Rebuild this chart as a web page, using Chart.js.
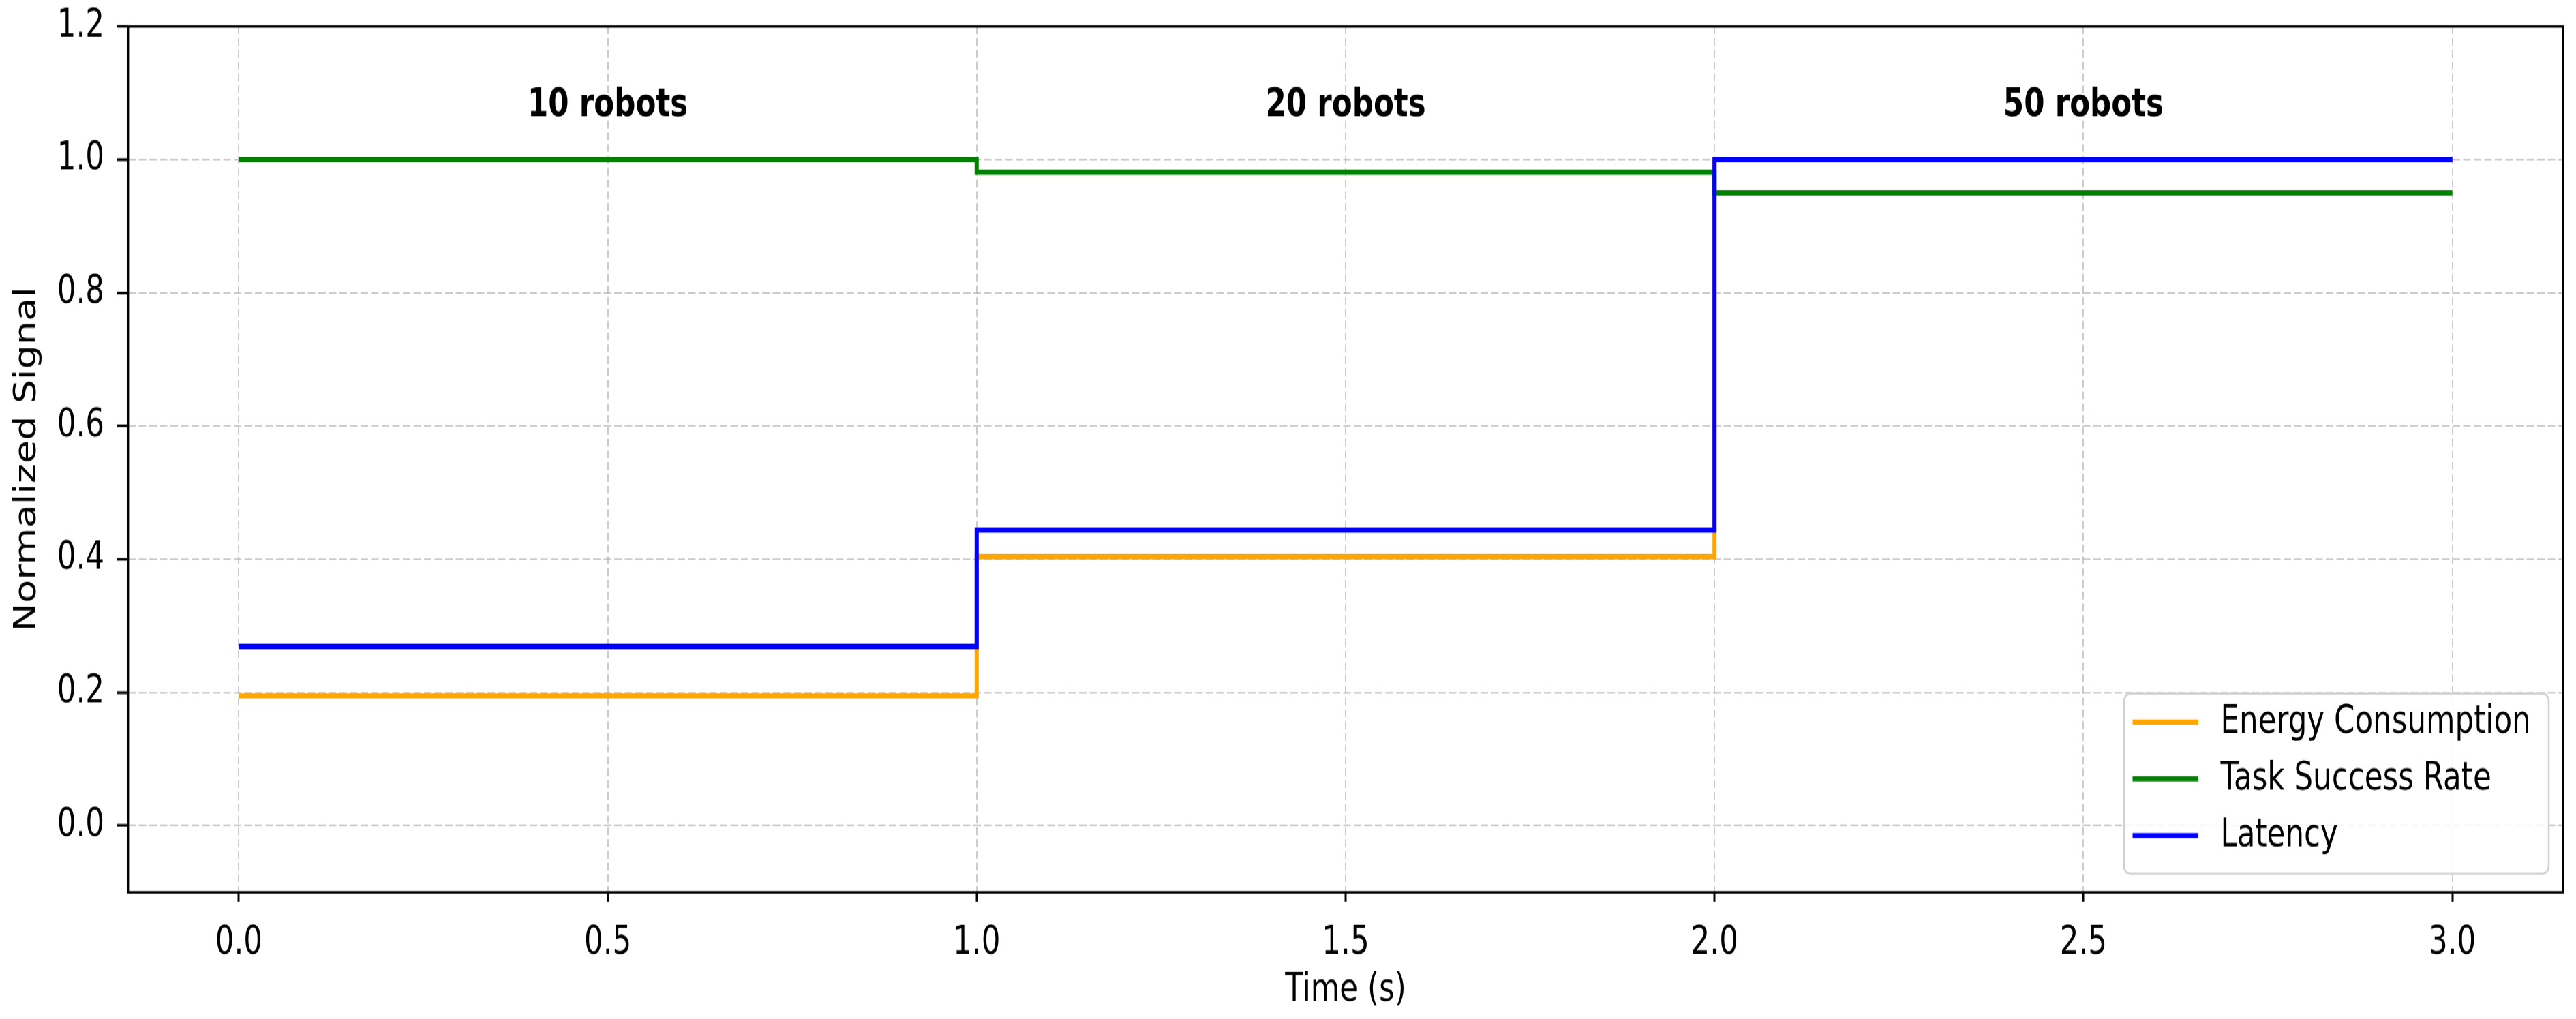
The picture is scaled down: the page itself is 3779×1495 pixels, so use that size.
<!DOCTYPE html>
<html><head><meta charset="utf-8">
<script src="https://cdn.jsdelivr.net/npm/chart.js@4.4.0/dist/chart.umd.min.js"></script>
<style>
html,body{margin:0;padding:0;background:#fff;}
#c{display:block;width:3779px;height:1495px;}
</style></head><body>
<canvas id="c" width="3779" height="1168" style="width:3779px;height:1495px;"></canvas>
<script>
// ---- data ----
const timePoints = [0, 1, 2, 3];
const energyConsumption = [0.195, 0.404, 1.0, 1.0];
const taskSuccessRate = [1.0, 0.981, 0.95, 0.95];
const latency = [0.269, 0.444, 1.0, 1.0];
const seriesNames = ['Energy Consumption', 'Task Success Rate', 'Latency'];
const phaseLabels = ['10 robots', '20 robots', '50 robots'];
const phaseCenters = [0.5, 1.5, 2.5];
const phaseLabelY = 1.08;
const xTicks = [0, 0.5, 1.0, 1.5, 2.0, 2.5, 3.0];
const yTicks = [0.0, 0.2, 0.4, 0.6, 0.8, 1.0, 1.2];

const FONT = "'DejaVu Sans', 'Liberation Sans', sans-serif";
const FS = 43.6;
const toPts = arr => timePoints.map((t, i) => ({x: t, y: arr[i]}));

const extras = {
  id: 'extras',
  afterDatasetsDraw(chart) {
    const ctx = chart.ctx, a = chart.chartArea;
    const xs = chart.scales.x, ys = chart.scales.y;
    ctx.save();
    // phase labels
    ctx.fillStyle = '#000';
    ctx.font = "bold " + FS + "px " + FONT;
    ctx.textAlign = 'center';
    ctx.textBaseline = 'middle';
    phaseLabels.forEach((t, i) => {
      ctx.fillText(t, xs.getPixelForValue(phaseCenters[i]), ys.getPixelForValue(phaseLabelY));
    });
    // frame
    ctx.strokeStyle = '#000';
    ctx.lineWidth = 2.8;
    ctx.strokeRect(a.left, a.top, a.right - a.left, a.bottom - a.top);
    // legend
    const colors = chart.data.datasets.map(d => d.borderColor);
    const bx = a.right - 644, by = a.bottom - 228, bw = 623, bh = 207, r = 9;
    ctx.beginPath();
    ctx.moveTo(bx + r, by);
    ctx.arcTo(bx + bw, by, bx + bw, by + bh, r);
    ctx.arcTo(bx + bw, by + bh, bx, by + bh, r);
    ctx.arcTo(bx, by + bh, bx, by, r);
    ctx.arcTo(bx, by, bx + bw, by, r);
    ctx.closePath();
    ctx.fillStyle = 'rgba(255,255,255,0.85)';
    ctx.fill();
    ctx.strokeStyle = '#d0d0d0';
    ctx.lineWidth = 2.5;
    ctx.stroke();
    ctx.font = FS + "px " + FONT;
    ctx.textAlign = 'left';
    ctx.textBaseline = 'middle';
    seriesNames.forEach((n, i) => {
      const y = by + 33 + i * 65;
      ctx.strokeStyle = colors[i];
      ctx.lineWidth = 6;
      ctx.beginPath();
      ctx.moveTo(bx + 12.5, y);
      ctx.lineTo(bx + 109, y);
      ctx.stroke();
      ctx.fillStyle = '#000';
      ctx.fillText(n, bx + 141.5, y + 1);
    });
    ctx.restore();
  }
};

const gridCommon = {
  color: 'rgba(170,170,170,0.6)',
  lineWidth: 2,
  tickColor: '#000',
  tickWidth: 3,
  tickBorderDash: []
};

new Chart(document.getElementById('c'), {
  type: 'line',
  data: {
    datasets: [
      {label: seriesNames[0], data: toPts(energyConsumption), borderColor: '#ffa500', order: 2},
      {label: seriesNames[1], data: toPts(taskSuccessRate), borderColor: '#008000', order: 1},
      {label: seriesNames[2], data: toPts(latency), borderColor: '#0000ff', order: 0}
    ].map(d => Object.assign(d, {stepped: 'before', borderWidth: 6, pointRadius: 0, fill: false, tension: 0}))
  },
  options: {
    responsive: false,
    animation: false,
    devicePixelRatio: 1,
    layout: {padding: {left: 0, right: 19, top: 30.2, bottom: 0}},
    plugins: {legend: {display: false}, tooltip: {enabled: false}},
    scales: {
      x: {
        type: 'linear', min: -0.15, max: 3.15,
        afterBuildTicks: s => { s.ticks = xTicks.map(v => ({value: v})); },
        afterFit: s => { s.height = 145.3; s.paddingLeft = 0; s.paddingRight = 0; },
        ticks: {autoSkip: false, maxRotation: 0, padding: 22, color: '#000',
                font: {family: FONT, size: FS}, callback: v => Number(v).toFixed(1)},
        grid: Object.assign({tickLength: 11}, gridCommon),
        border: {display: false, dash: [9, 4.5]},
        title: {display: true, text: 'Time (s)', color: '#000', font: {family: FONT, size: FS},
                padding: {top: 0, bottom: 6}}
      },
      y: {
        type: 'linear', min: -0.1, max: 1.2,
        afterBuildTicks: s => { s.ticks = yTicks.map(v => ({value: v})); },
        afterFit: s => { s.width = 188; s.paddingTop = 0; s.paddingBottom = 0; },
        ticks: {padding: 19, color: '#000', font: {family: FONT, size: FS},
                callback: v => Number(v).toFixed(1)},
        grid: Object.assign({tickLength: 16}, gridCommon),
        border: {display: false, dash: [11, 4.5]},
        title: {display: true, text: 'Normalized Signal', color: '#000', font: {family: FONT, size: FS},
                padding: {top: 15, bottom: 0}}
      }
    }
  },
  plugins: [extras]
});
</script>
</body></html>
